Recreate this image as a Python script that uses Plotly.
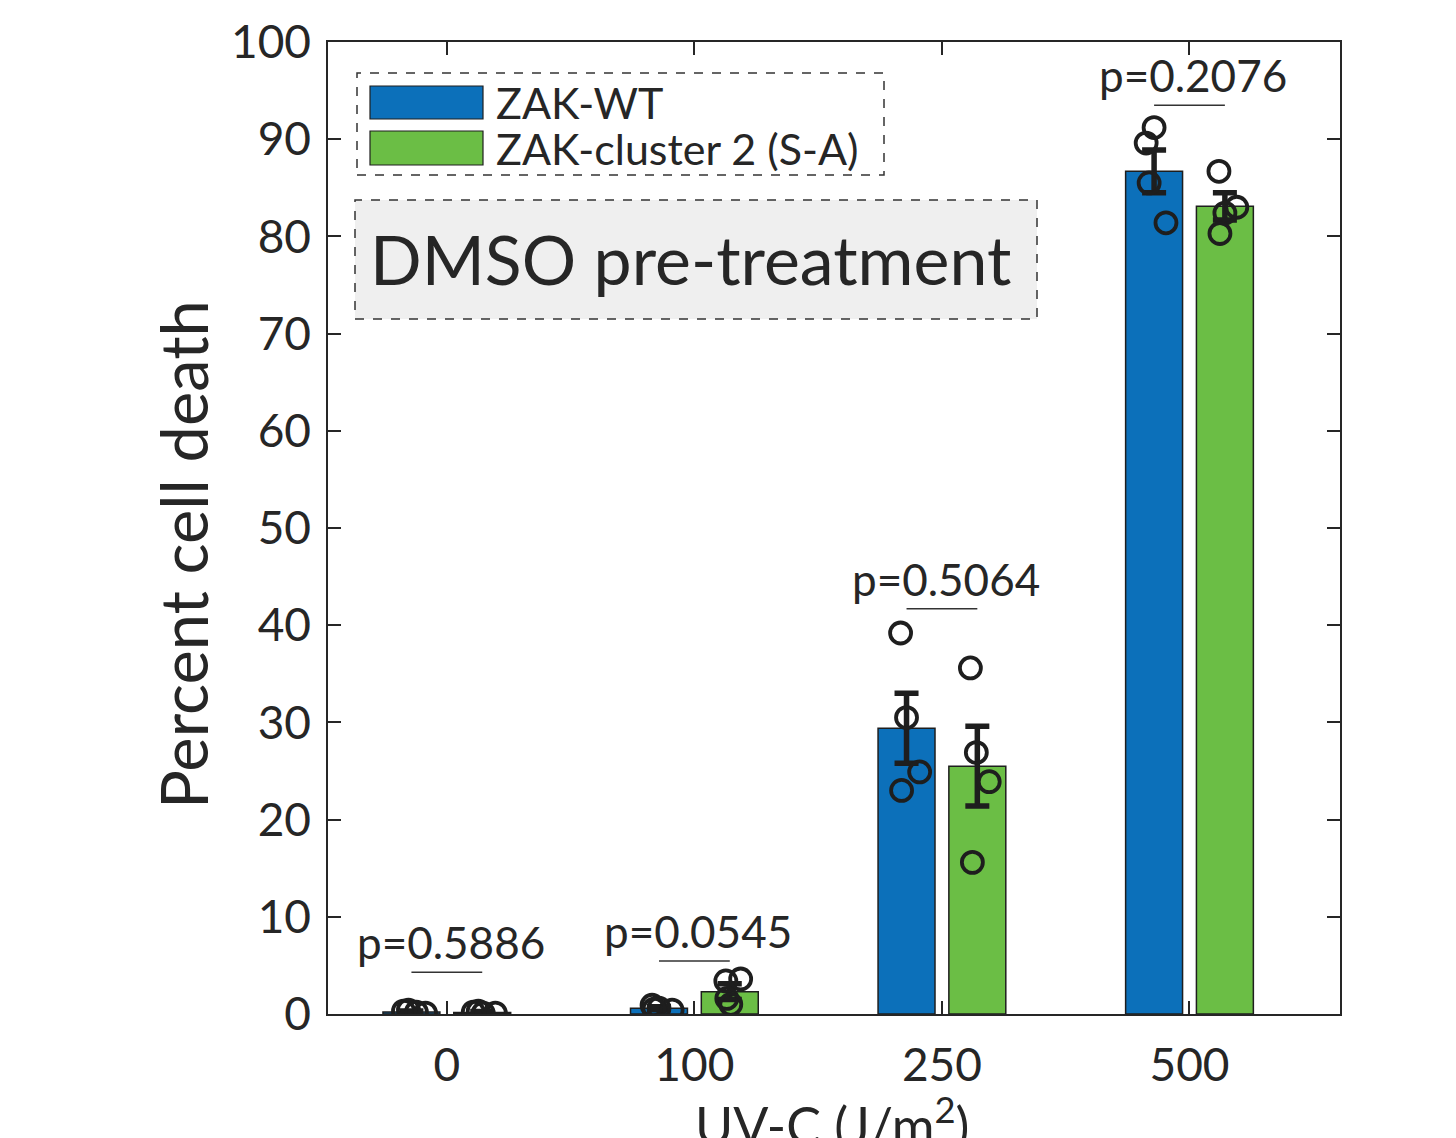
import plotly.graph_objects as go

# ---------------- data ----------------
categories = ["0", "100", "250", "500"]
cat_pos = [1, 2, 3, 4]

wt_mean = [0.2, 0.6, 29.4, 86.7]
cl_mean = [0.15, 2.3, 25.5, 83.1]
wt_err = [0.1, 0.15, 3.6, 2.2]
cl_err = [0.1, 0.8, 4.1, 1.4]

wt_points = [[0.3, 0.4, 0.2, 0.1],
             [0.9, 0.6, 0.4, 0.5],
             [39.2, 30.5, 24.9, 23.0],
             [91.2, 89.6, 85.5, 81.4]]
cl_points = [[0.2, 0.3, 0.1, 0.1],
             [3.4, 3.6, 1.6, 1.0],
             [35.6, 26.9, 23.9, 15.6],
             [86.7, 83.0, 82.4, 80.3]]
# horizontal jitter of individual replicates (category units)
wt_jitter = [[-0.032, -0.012, 0.020, 0.057],
             [-0.028, 0.000, 0.053, -0.020],
             [-0.024, 0.000, 0.053, -0.020],
             [0.000, -0.032, -0.020, 0.048]]
cl_jitter = [[-0.036, -0.016, 0.004, 0.053],
             [-0.016, 0.044, -0.012, 0.004],
             [-0.028, -0.004, 0.048, -0.020],
             [-0.024, 0.048, 0.000, -0.020]]

p_labels = ["p=0.5886", "p=0.0545", "p=0.5064", "p=0.2076"]
p_line_y = [4.3, 5.45, 41.7, 93.5]

series_names = ["ZAK-WT", "ZAK-cluster 2 (S-A)"]
panel_label = "DMSO pre-treatment"

# ---------------- style ----------------
BLUE = "#0C70BA"
GREEN = "#6BBE45"
INK = "#1E1E1E"
AX = "#262626"
FONT = "Lato"
OFF = 0.143
BW = 0.23

fig = go.Figure()

for mean, err, pts, jit, color, sign in [
    (wt_mean, wt_err, wt_points, wt_jitter, BLUE, -1),
    (cl_mean, cl_err, cl_points, cl_jitter, GREEN, 1),
]:
    centers = [c + sign * OFF for c in cat_pos]
    fig.add_trace(go.Bar(
        x=centers, y=mean, width=BW,
        marker=dict(color=color, line=dict(color=INK, width=1.5)),
        showlegend=False,
    ))
    fig.add_trace(go.Scatter(
        x=centers, y=mean, mode="markers",
        marker=dict(size=1, color="rgba(0,0,0,0)"),
        error_y=dict(type="data", array=err, color=INK, thickness=5.5, width=12),
        showlegend=False, hoverinfo="skip",
    ))
    px, py = [], []
    for c, vals, js in zip(centers, pts, jit):
        for v, j in zip(vals, js):
            px.append(c + j)
            py.append(v)
    fig.add_trace(go.Scatter(
        x=px, y=py, mode="markers",
        marker=dict(symbol="circle-open", size=21, color=INK, line=dict(width=3.8, color=INK)),
        showlegend=False,
    ))

# p-value bars and labels
for c, ly, lab in zip(cat_pos, p_line_y, p_labels):
    fig.add_trace(go.Scatter(
        x=[c - OFF, c + OFF], y=[ly, ly], mode="lines",
        line=dict(color="#333333", width=1.5), showlegend=False, hoverinfo="skip",
    ))
    fig.add_annotation(x=c, y=ly, xref="x", yref="y", text=lab, showarrow=False,
                       xshift=4, yshift=30, yanchor="middle",
                       font=dict(family=FONT, size=44, color=AX))

# screen-pixel helpers (plot area spans 328..1340 x 42..1014)
def px2x(p):
    return (p - 328) / 1012

def py2y(p):
    return (1014 - p) / 972

# manual legend (dashed box)
fig.add_shape(type="rect", xref="paper", yref="paper",
              x0=px2x(357), x1=px2x(884), y0=py2y(175), y1=py2y(73),
              line=dict(color="#333333", width=1.5, dash="dash"), fillcolor="white")
for (y0, y1), color, name in zip([(119, 86), (165, 131)], [BLUE, GREEN], series_names):
    fig.add_shape(type="rect", xref="paper", yref="paper",
                  x0=px2x(370), x1=px2x(483), y0=py2y(y0), y1=py2y(y1),
                  line=dict(color=INK, width=1.2), fillcolor=color)
    fig.add_annotation(xref="paper", yref="paper", x=px2x(494), y=py2y((y0 + y1) / 2),
                       text=name, showarrow=False, xanchor="left", yanchor="middle",
                       font=dict(family=FONT, size=43, color=AX))

# panel label box
fig.add_shape(type="rect", xref="paper", yref="paper",
              x0=px2x(355), x1=px2x(1037), y0=py2y(319), y1=py2y(200),
              line=dict(color="#333333", width=1.5, dash="dash"), fillcolor="#EFEFEF")
fig.add_annotation(xref="paper", yref="paper", x=px2x(368), y=py2y(258),
                   text=panel_label, showarrow=False, xanchor="left", yanchor="middle",
                   font=dict(family=FONT, size=68, color=AX))

# axis titles
fig.add_annotation(xref="paper", yref="paper", x=px2x(183), y=py2y(555),
                   text="Percent cell death", textangle=-90, showarrow=False,
                   xanchor="center", yanchor="middle",
                   font=dict(family=FONT, size=65, color=AX))
fig.add_annotation(xref="paper", yref="paper", x=px2x(832), y=py2y(1121),
                   text="UV-C (J/m<sup>2</sup>)", showarrow=False,
                   xanchor="center", yanchor="middle",
                   font=dict(family=FONT, size=52, color=AX))

fig.update_layout(
    width=1456, height=1138,
    margin=dict(l=320, r=124, t=34, b=132, autoexpand=False),
    paper_bgcolor="white", plot_bgcolor="white",
    barmode="overlay",
    font=dict(family=FONT, color=AX),
)
fig.update_xaxes(
    range=[0.52, 4.608], tickvals=cat_pos, ticktext=categories,
    ticks="inside", ticklen=13, tickwidth=1.5, tickcolor=AX,
    showline=True, linecolor=AX, linewidth=1.5, mirror="ticks",
    showgrid=False, zeroline=False, automargin=False,
    tickfont=dict(family=FONT, size=46, color=AX), ticklabelstandoff=10,
)
fig.update_yaxes(
    range=[0, 100], tickvals=list(range(0, 101, 10)),
    ticks="inside", ticklen=13, tickwidth=1.5, tickcolor=AX,
    showline=True, linecolor=AX, linewidth=1.5, mirror="ticks",
    showgrid=False, zeroline=False, automargin=False,
    tickfont=dict(family=FONT, size=46, color=AX), ticklabelstandoff=6,
)

fig.write_html("out.html")
